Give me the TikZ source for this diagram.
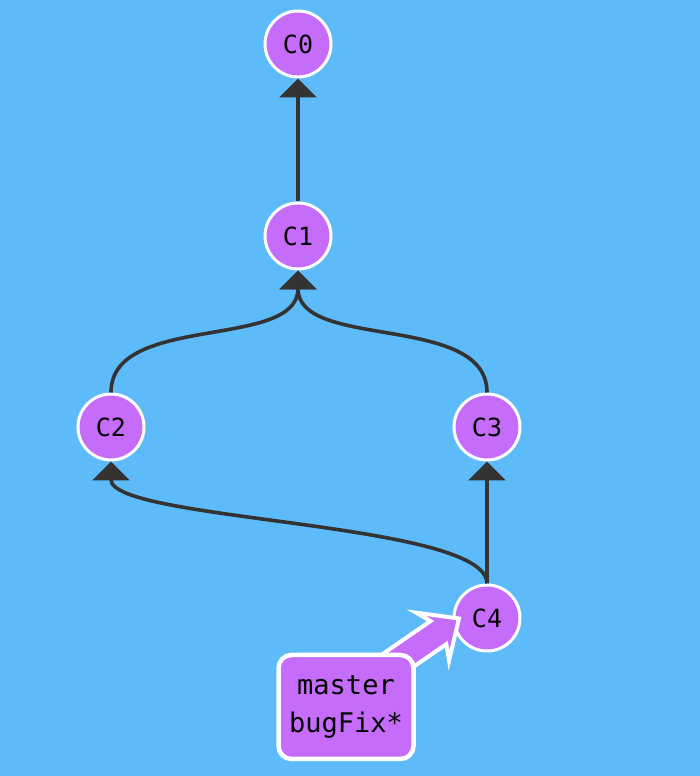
\documentclass[tikz,border=0pt]{standalone}
\usepackage{fontspec}
\setmonofont{DejaVu Sans Mono}
\usetikzlibrary{arrows.meta}
\definecolor{bgblue}{RGB}{94,187,249}
\definecolor{cpurple}{RGB}{197,108,250}
\definecolor{edgec}{RGB}{51,51,51}
\tikzset{
  commit/.style={circle, fill=cpurple, draw=white, line width=3pt, minimum size=66pt, inner sep=0pt,
    font=\ttfamily\fontsize{25}{30}\selectfont},
  branchbox/.style={rectangle, rounded corners=13pt, fill=cpurple, draw=white, line width=4.5pt,
    minimum width=135pt, minimum height=104pt, align=center, inner sep=0pt,
    font=\ttfamily\fontsize{27}{38}\selectfont},
  parent/.style={draw=edgec, line width=3.6pt, -{Triangle[width=37pt,length=19pt]}},
}
\begin{document}
\begin{tikzpicture}[x=1pt,y=1pt]
\fill[bgblue] (0,0) rectangle (700,776);
\useasboundingbox (0,0) rectangle (700,776);
\node[commit] (c0) at (298,732) {C0};
\node[commit] (c1) at (298,540) {C1};
\node[commit] (c2) at (111,349) {C2};
\node[commit] (c3) at (487,349) {C3};
\node[commit] (c4) at (487,158) {C4};
\draw[parent] (c1) -- (c0);
\draw[parent] (c2.north) .. controls +(0,80) and +(0,-80) .. (c1.south);
\draw[parent] (c3.north) .. controls +(0,80) and +(0,-80) .. (c1.south);
\draw[parent] (c4) -- (c3);
\draw[parent] (c4.north) .. controls +(0,62) and +(0,-60) .. (c2.south);
% branch pointer arrow
\coordinate (tip) at (459,157.5);
\begin{scope}[shift={(tip)}, rotate=34.5]
\draw[draw=white, line width=4pt, fill=cpurple, line join=miter]
  (0,0) -- (-32,29) -- (-25,14) -- (-100,14) -- (-100,-14) -- (-25,-14) -- (-32,-29) -- cycle;
\end{scope}
\node[branchbox] (lbl) at (346,69) {master\\bugFix*};
\end{tikzpicture}
\end{document}
